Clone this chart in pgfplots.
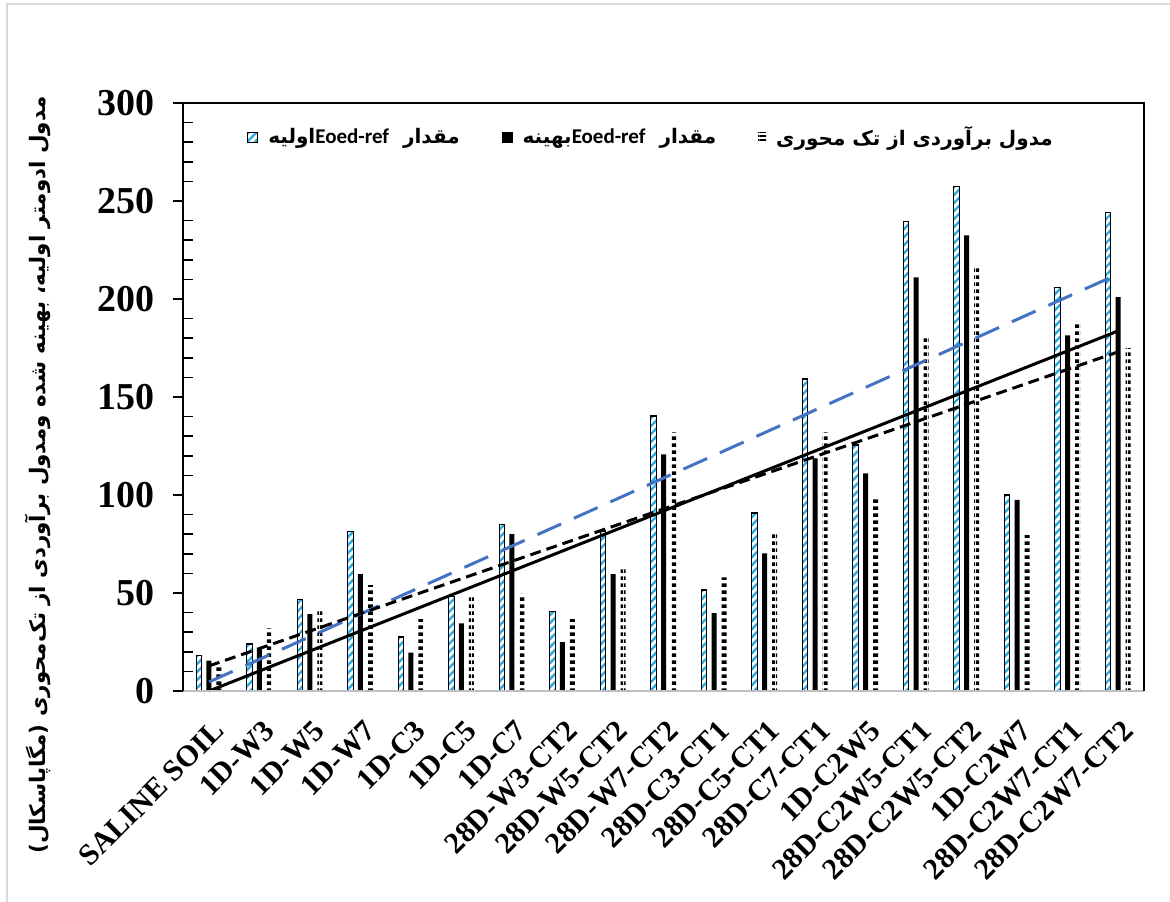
\documentclass[border=0pt]{standalone}
\usepackage{fontspec}
\setmainfont{Liberation Serif}
\newfontfamily\fa[Script=Arabic]{DejaVu Sans}
\newfontfamily\calfont{Carlito}
\usepackage{pgfplots}
\usepackage{pgfplotstable}
\pgfplotsset{compat=1.18}
\usetikzlibrary{patterns}
\TeXXeTstate=1
\definecolor{cyanbar}{RGB}{41,171,226}
\definecolor{trendblue}{RGB}{68,114,196}
\pgfdeclarepatternformonly{bstripe}{\pgfqpoint{-1pt}{-1pt}}{\pgfqpoint{5pt}{5pt}}{\pgfqpoint{4pt}{4pt}}{%
  \pgfsetlinewidth{1.1pt}\pgfpathmoveto{\pgfqpoint{-1pt}{-1pt}}\pgfpathlineto{\pgfqpoint{5pt}{5pt}}\pgfusepath{stroke}}
\pgfdeclarepatternformonly{hdash}{\pgfpointorigin}{\pgfqpoint{4pt}{3.5pt}}{\pgfqpoint{4pt}{3.5pt}}{%
  \pgfpathrectangle{\pgfpointorigin}{\pgfqpoint{4pt}{2pt}}\pgfusepath{fill}}
\pgfdeclarepatternformonly{hdashleg}{\pgfpointorigin}{\pgfqpoint{4pt}{2pt}}{\pgfqpoint{4pt}{2pt}}{%
  \pgfpathrectangle{\pgfpointorigin}{\pgfqpoint{4pt}{1.1pt}}\pgfusepath{fill}}

\pgfplotstableread{
x blue black dot
1 18 15.5 13
2 24 21.5 32
3 46.6 39.2 40.8
4 81.2 59.7 54
5 27.6 19.6 36.7
6 48.1 34.5 48.1
7 85 80 49.5
8 40.5 25 36.7
9 81.6 59.7 62.6
10 140.3 120.7 132
11 51.5 39.8 58
12 90.8 70.2 80
13 159.2 118.7 132
14 125.5 111 98.5
15 239.5 211 180.5
16 257.5 232.5 216.5
17 100 97.5 79.5
18 206 181.5 188
19 244 201 175
}\data

\begin{document}
\begin{tikzpicture}
\useasboundingbox (-91.5pt,-105pt) rectangle (493.5pt,345.5pt);
\draw[black!15, line width=1pt] (-88pt,-120pt) -- (-88pt,343.5pt) -- (510pt,343.5pt);
\begin{axis}[
  at={(0pt,0pt)}, anchor=south west,
  width=480.5pt, height=294pt, scale only axis,
  xmin=0.486, xmax=19.514, ymin=0, ymax=300,
  clip=false,
  axis line style={draw=none},
  xtick={1,...,19},
  xticklabels={SALINE SOIL,1D-W3,1D-W5,1D-W7,1D-C3,1D-C5,1D-C7,28D-W3-CT2,28D-W5-CT2,28D-W7-CT2,28D-C3-CT1,28D-C5-CT1,28D-C7-CT1,1D-C2W5,28D-C2W5-CT1,28D-C2W5-CT2,1D-C2W7,28D-C2W7-CT1,28D-C2W7-CT2},
  xtick style={draw=none},
  ytick={0,50,...,300},
  minor y tick num=4,
  ytick pos=left,
  tick align=inside,
  major tick length=5pt, minor tick length=5pt,
  ytick style={black, line width=0.8pt},
  major tick style={xshift=-5pt},
  /pgf/number format/assume math mode=true,
  yticklabel style={font=\bfseries\fontsize{19}{19}\selectfont, inner sep=0pt, xshift=-14pt},
  xticklabel style={font=\bfseries\fontsize{15}{15}\selectfont, inner sep=0pt, xshift=1.25pt, yshift=-13.5pt, rotate=45, anchor=north east},
  legend columns=3,
  legend style={draw=none, fill=none, at={(0.060,0.942)}, anchor=west,
    font=\fa\bfseries\fontsize{10}{10}\selectfont,
    /tikz/every odd column/.style={column sep=3pt},
    /tikz/every even column/.append style={column sep=19pt}},
  legend image code/.code={\draw[#1] (0pt,-2.5pt) rectangle (5pt,2.5pt);},
]
\addplot[ybar, bar width=2.8pt, bar shift=-5pt, draw=black, line width=0.6pt, pattern=bstripe, pattern color=cyanbar] table[x=x,y=blue]{\data};
\addlegendentry{\beginR مقدار\hspace{7pt}\beginL{\calfont\fontsize{10.5}{10.5}\selectfont Eoed-ref}\endL اولیه\endR}
\addplot[ybar, bar width=2.5pt, bar shift=0pt, draw=none, fill=black] table[x=x,y=black]{\data};
\addlegendentry{\beginR مقدار\hspace{7pt}\beginL{\calfont\fontsize{10.5}{10.5}\selectfont Eoed-ref}\endL بهینه\endR}
\addplot[ybar, bar width=2.5pt, bar shift=5pt, draw=none, pattern=hdash, pattern color=black,
  legend image code/.code={\fill[pattern=hdashleg, pattern color=black] (0.5pt,-2.5pt) rectangle (4.5pt,2.5pt);}] table[x=x,y=dot]{\data};
\addlegendentry{\beginR مدول برآوردی از تک محوری\endR}
\addplot[forget plot, trendblue, line width=1.5pt, dash pattern=on 13pt off 7pt] coordinates {(1,4.6) (19,212.7)};
\addplot[forget plot, black, line width=1.5pt] coordinates {(1,0) (19,183.7)};
\addplot[forget plot, black, line width=1.5pt, dash pattern=on 5.5pt off 3pt] coordinates {(1,12.8) (19,173)};
\draw[black!25, line width=1pt] (rel axis cs:0,0) -- (rel axis cs:1,0);
\draw[black, line width=1pt] (rel axis cs:0,0) -- (rel axis cs:0,1) -- (rel axis cs:1,1) -- (rel axis cs:1,0);
\end{axis}
\node[rotate=90, inner sep=0pt, font=\fa\bfseries\fontsize{10.7}{10.7}\selectfont] at (-72.5pt,108pt) {\beginR مدول ادومتر اولیه، بهینه شده ومدول برآوردی از تک‌محوری (مگاپاسکال)\endR};
\end{tikzpicture}
\end{document}
